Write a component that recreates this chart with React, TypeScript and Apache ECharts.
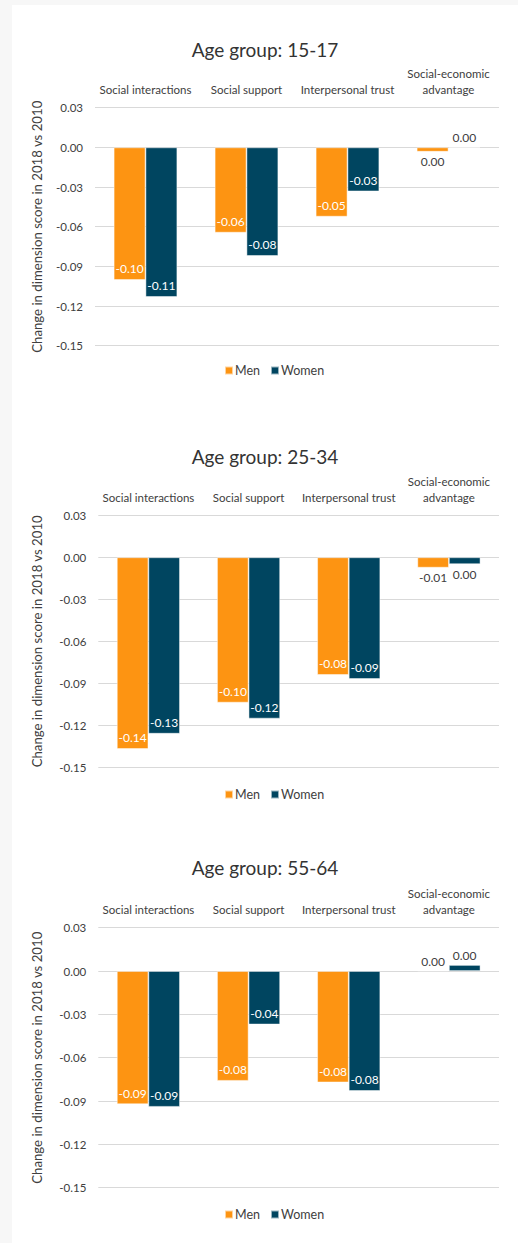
import React, { useEffect, useRef } from "react";
import * as echarts from "echarts";

const categories = ["Social interactions", "Social support", "Interpersonal trust", "Social-economic\nadvantage"];
const panelTitles = ["Age group: 15-17", "Age group: 25-34", "Age group: 55-64"];
const seriesNames = ["Men", "Women"];
const yTicks = [-0.15, -0.12, -0.09, -0.06, -0.03, 0.0, 0.03];

const men1517 = [-0.1003, -0.0645, -0.0524, -0.0033];
const women1517 = [-0.1131, -0.0821, -0.0333, 0.0004];
const men2534 = [-0.1369, -0.1038, -0.084, -0.0074];
const women2534 = [-0.126, -0.1152, -0.0869, -0.0049];
const men5564 = [-0.0922, -0.076, -0.0771, 0.0004];
const women5564 = [-0.094, -0.037, -0.083, 0.0042];

const panels = [
  { title: panelTitles[0], men: men1517, women: women1517 },
  { title: panelTitles[1], men: men2534, women: women2534 },
  { title: panelTitles[2], men: men5564, women: women5564 },
];

const COLORS = ["#FD9412", "#004560"];
const FONT = "Lato";
const TXT = "#404040";

// layout (chart coordinates, inside the white panel)
const layouts = [
  { titleTop: 30, left: 83, top: 102.7, width: 404, height: 238, legendTop: 354, nameGap: 52 },
  { titleTop: 437, left: 86.3, top: 510.3, width: 400.7, height: 252, legendTop: 778, nameGap: 55 },
  { titleTop: 848, left: 86.3, top: 922.7, width: 400.7, height: 260, legendTop: 1198, nameGap: 55 },
];

function fmt(v: number) {
  const s = v.toFixed(2);
  return s === "-0.00" ? "0.00" : s;
}

function buildData(values: number[]) {
  return values.map((v) => {
    const small = Math.abs(v) < 0.02;
    return {
      value: v,
      label: small
        ? { position: v < 0 ? "bottom" : "top", color: TXT, distance: v < 0 ? 4 : 3 }
        : { position: "insideBottom", color: "#ffffff", distance: 5 },
    };
  });
}

export default function App() {
  const ref = useRef<HTMLDivElement>(null);
  useEffect(() => {
    document.body.style.margin = "0";
    if (!ref.current) return;
    const chart = echarts.init(ref.current, undefined, { renderer: "svg" });
    const title: any[] = [];
    const grid: any[] = [];
    const xAxis: any[] = [];
    const yAxis: any[] = [];
    const legend: any[] = [];
    const series: any[] = [];
    panels.forEach((p, i) => {
      const L = layouts[i];
      title.push({
        text: p.title,
        left: "center",
        top: L.titleTop,
        textStyle: { fontFamily: FONT, fontSize: 19, fontWeight: "normal", color: "#333333" },
      });
      grid.push({ left: L.left, top: L.top, width: L.width, height: L.height });
      xAxis.push({
        type: "category",
        gridIndex: i,
        data: categories,
        position: "top",
        axisLine: { show: false },
        axisTick: { show: false },
        axisLabel: { interval: 0, margin: 10, fontFamily: FONT, fontSize: 11.5, color: TXT, lineHeight: 16 },
      });
      yAxis.push({
        type: "value",
        gridIndex: i,
        min: yTicks[0],
        max: yTicks[yTicks.length - 1],
        interval: 0.03,
        name: "Change in dimension score in 2018 vs 2010",
        nameLocation: "middle",
        nameGap: L.nameGap,
        nameTextStyle: { fontFamily: FONT, fontSize: 13.2, color: TXT },
        axisLine: { show: false },
        axisTick: { show: false },
        splitLine: { show: true, lineStyle: { color: "#D9D9D9", width: 1 } },
        axisLabel: { margin: 12, fontFamily: FONT, fontSize: 11.5, color: TXT, formatter: (v: number) => fmt(v) },
      });
      legend.push({
        data: seriesNames,
        left: 207,
        top: L.legendTop,
        itemWidth: 8,
        itemHeight: 8,
        itemGap: 10,
        icon: "rect",
        textStyle: { fontFamily: FONT, fontSize: 12.5, color: TXT, padding: [0, 0, 0, -3] },
      });
      [p.men, p.women].forEach((vals, s) => {
        series.push({
          type: "bar",
          name: seriesNames[s],
          xAxisIndex: i,
          yAxisIndex: i,
          data: buildData(vals),
          barGap: "0%",
          barCategoryGap: "37%",
          itemStyle: { color: COLORS[s], borderColor: "rgba(255,255,255,0.6)", borderWidth: 0.8 },
          label: {
            show: true,
            fontFamily: FONT,
            fontSize: 12,
            formatter: (d: any) => fmt(d.value),
          },
        });
      });
    });
    chart.setOption({
      animation: false,
      backgroundColor: "#ffffff",
      color: COLORS,
      title,
      grid,
      xAxis,
      yAxis,
      legend,
      series,
    });
    return () => chart.dispose();
  }, []);
  return (
    <div style={{ position: "relative", width: 518, height: 1243, background: "#F7F7F7", overflow: "hidden" }}>
      <div
        ref={ref}
        style={{ position: "absolute", left: 12, top: 5, width: 506, height: 1238, background: "#ffffff" }}
      />
    </div>
  );
}
